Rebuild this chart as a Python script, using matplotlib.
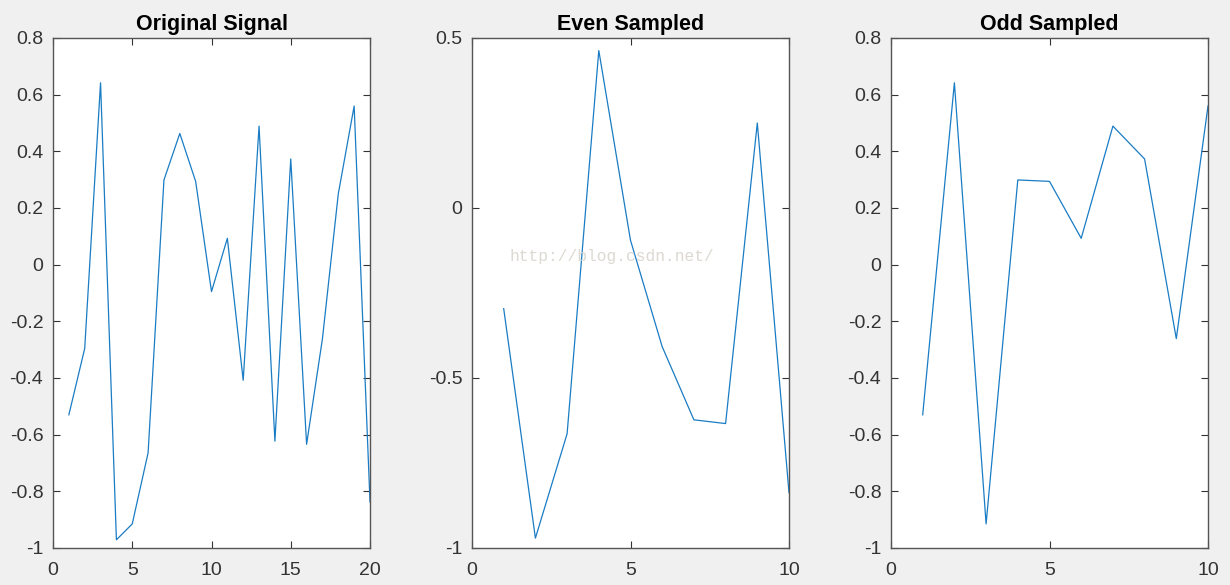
import matplotlib
matplotlib.use("Agg")
import matplotlib.pyplot as plt

# signal values (samples 1..20)
signal = [-0.53, -0.296, 0.642, -0.971, -0.915, -0.664, 0.299, 0.463, 0.294, -0.095,
          0.093, -0.408, 0.489, -0.623, 0.373, -0.634, -0.261, 0.25, 0.56, -0.837]
n = list(range(1, len(signal) + 1))

even_sampled = signal[1::2]
odd_sampled = signal[0::2]
n_half = list(range(1, len(even_sampled) + 1))

titles = ["Original Signal", "Even Sampled", "Odd Sampled"]
x_ticks = [[0, 5, 10, 15, 20], [0, 5, 10], [0, 5, 10]]
y_ticks = [[-1, -0.8, -0.6, -0.4, -0.2, 0, 0.2, 0.4, 0.6, 0.8],
           [-1, -0.5, 0, 0.5],
           [-1, -0.8, -0.6, -0.4, -0.2, 0, 0.2, 0.4, 0.6, 0.8]]
y_labels = [["-1", "-0.8", "-0.6", "-0.4", "-0.2", "0", "0.2", "0.4", "0.6", "0.8"],
            ["-1", "-0.5", "0", "0.5"],
            ["-1", "-0.8", "-0.6", "-0.4", "-0.2", "0", "0.2", "0.4", "0.6", "0.8"]]
x_lims = [(0, 20), (0, 10), (0, 10)]
y_lims = [(-1, 0.8), (-1, 0.5), (-1, 0.8)]

plt.rcParams['font.family'] = ['Liberation Sans', 'DejaVu Sans']
axcol = '#333333'
line_col = '#1a7cc4'

fig = plt.figure(figsize=(12.3, 5.85), dpi=100, facecolor='#F0F0F0')
W, H = 1230, 585
lefts = [53, 472, 891]
width = 317
top, bottom = 38, 548

data = [(n, signal), (n_half, even_sampled), (n_half, odd_sampled)]
for i in range(3):
    ax = fig.add_axes([lefts[i] / W, 1 - bottom / H, width / W, (bottom - top) / H])
    ax.plot(data[i][0], data[i][1], color=line_col, linewidth=0.9)
    ax.set_xlim(*x_lims[i])
    ax.set_ylim(*y_lims[i])
    ax.set_xticks(x_ticks[i])
    ax.set_xticklabels([str(t) for t in x_ticks[i]])
    ax.set_yticks(y_ticks[i])
    ax.set_yticklabels(y_labels[i])
    ax.tick_params(direction='in', length=5, width=0.8, colors=axcol, labelsize=14,
                   top=True, right=True, pad=7)
    ax.tick_params(axis='x', pad=10)
    for s in ax.spines.values():
        s.set_color('#555555')
        s.set_linewidth(1.0)
    ax.set_title(titles[i], fontsize=15.5, fontweight='bold', color='black', pad=6)

# watermark
fig.text(612 / W, 1 - 256 / H, "http://blog.csdn.net/", family='Liberation Mono',
         fontsize=11.7, color='#dcd9d2', ha='center', va='center')

fig.savefig("out.png", dpi=100, facecolor=fig.get_facecolor())
